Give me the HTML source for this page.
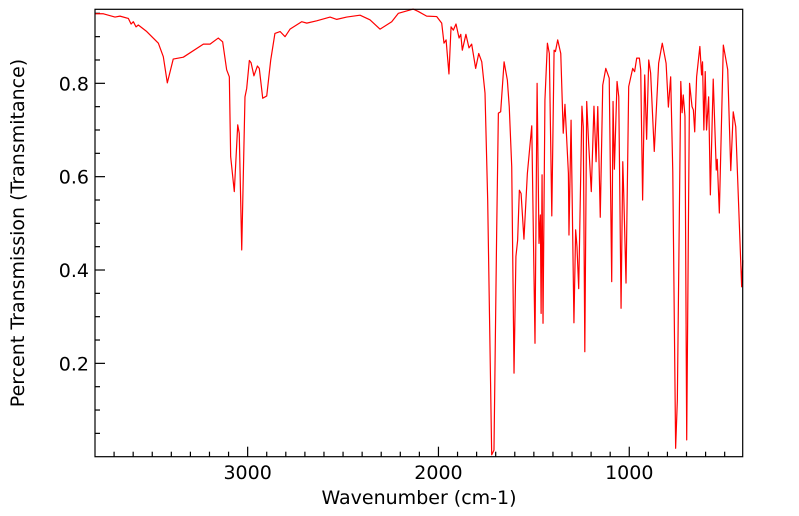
<!DOCTYPE html>
<html>
<head>
<meta charset="utf-8">
<style>
  html,body{margin:0;padding:0;background:#fff;}
  svg{display:block;font-family:"DejaVu Sans","Liberation Sans",sans-serif;}
</style>
</head>
<body>
<svg id="chart" width="799" height="516" viewBox="0 0 799 516">
  <rect x="0" y="0" width="799" height="516" fill="#fff"/>
  <g id="ticks"></g>
  <g id="series"></g>
  <rect x="95" y="9.3" width="647.7" height="447.4" fill="none" stroke="#000" stroke-width="1.2"/>
  <text x="419" y="504" text-anchor="middle" font-size="19">Wavenumber (cm-1)</text>
  <text transform="translate(24,233) rotate(-90)" text-anchor="middle" font-size="19">Percent Transmission (Transmitance)</text>
</svg>
<script>
const wavenumbers = [3800,3756,3695,3669,3625,3611,3599,3585,3573,3529,3468,3442,3421,3390,3337,3232,3197,3154,3131,3110,3096,3089,3070,3052,3044,3031,3014,3005,2991,2982,2967,2949,2939,2921,2900,2879,2857,2830,2804,2778,2717,2690,2638,2568,2533,2481,2411,2359,2306,2245,2210,2132,2106,2062,2009,1983,1971,1960,1945,1934,1922,1908,1892,1883,1875,1856,1840,1826,1805,1789,1773,1756,1742,1721,1709,1695,1686,1674,1656,1639,1629,1616,1604,1594,1585,1576,1567,1552,1534,1511,1494,1483,1473,1466,1462,1457,1452,1442,1429,1419,1406,1394,1387,1375,1359,1346,1337,1319,1316,1305,1290,1281,1274,1265,1248,1241,1233,1223,1213,1199,1185,1174,1165,1152,1139,1123,1105,1092,1085,1078,1064,1055,1043,1034,1029,1017,1003,982,972,961,947,940,930,919,909,898,888,869,846,827,807,795,783,772,757,748,730,723,717,708,699,684,671,664,657,647,630,621,616,609,602,595,584,575,560,544,539,528,507,484,468,455,442,411,405];
const transmittance = [0.949,0.949,0.942,0.944,0.939,0.927,0.932,0.921,0.925,0.911,0.886,0.857,0.801,0.852,0.856,0.884,0.884,0.897,0.889,0.829,0.814,0.643,0.568,0.711,0.693,0.443,0.771,0.789,0.849,0.844,0.816,0.837,0.832,0.768,0.773,0.850,0.907,0.911,0.900,0.916,0.932,0.929,0.934,0.942,0.937,0.942,0.946,0.936,0.916,0.932,0.950,0.959,0.954,0.944,0.943,0.929,0.886,0.893,0.820,0.921,0.914,0.927,0.897,0.905,0.871,0.905,0.876,0.884,0.832,0.864,0.846,0.779,0.550,0.004,0.014,0.479,0.736,0.739,0.846,0.807,0.750,0.621,0.179,0.429,0.464,0.571,0.564,0.466,0.607,0.709,0.243,0.800,0.457,0.518,0.307,0.604,0.286,0.764,0.886,0.864,0.516,0.871,0.868,0.893,0.864,0.693,0.755,0.607,0.475,0.721,0.287,0.486,0.450,0.360,0.751,0.707,0.225,0.761,0.672,0.568,0.751,0.632,0.750,0.513,0.796,0.832,0.811,0.375,0.761,0.616,0.804,0.771,0.318,0.632,0.564,0.372,0.793,0.832,0.825,0.854,0.854,0.829,0.550,0.818,0.680,0.850,0.822,0.654,0.843,0.886,0.843,0.749,0.814,0.611,0.018,0.121,0.804,0.737,0.775,0.729,0.036,0.800,0.750,0.743,0.696,0.814,0.879,0.818,0.846,0.700,0.825,0.700,0.771,0.561,0.809,0.614,0.637,0.522,0.882,0.829,0.613,0.739,0.707,0.364,0.421];
const xMajorTicks = [3000,2000,1000];
const xMajorLabels = ["3000","2000","1000"];
const yMajorTicks = [0.2,0.4,0.6,0.8];
const yMajorLabels = ["0.2","0.4","0.6","0.8"];

const X0=95, X1=742.7, Y0=456.7, Y1=9.3;
const WN_MAX=3800, WN_MIN=405.5, T_MIN=0, T_MAX=0.9586;
function xScale(w){return X0+(WN_MAX-w)/(WN_MAX-WN_MIN)*(X1-X0);}
function yScale(t){return Y0-(t-T_MIN)/(T_MAX-T_MIN)*(Y0-Y1);}
const NS="http://www.w3.org/2000/svg";
const tg=document.getElementById('ticks');
function line(x1,y1,x2,y2,name){
  const l=document.createElementNS(NS,'line');
  l.setAttribute('x1',x1);l.setAttribute('y1',y1);l.setAttribute('x2',x2);l.setAttribute('y2',y2);
  l.setAttribute('stroke','#000');l.setAttribute('stroke-width','1.2');
  
  
  tg.appendChild(l);
}
function label(x,y,txt,anchor,name){
  const t=document.createElementNS(NS,'text');
  t.setAttribute('x',x);t.setAttribute('y',y);t.setAttribute('text-anchor',anchor);
  t.setAttribute('font-size','19');t.textContent=txt;
  
  
  tg.appendChild(t);
}
for(let w=3700; w>=WN_MIN; w-=100){
  if(xMajorTicks.indexOf(w)<0) line(xScale(w),Y0,xScale(w),Y0-5,'x-minor-tick');
}
xMajorTicks.forEach((w,i)=>{
  line(xScale(w),Y0,xScale(w),Y0-10,'x-major-tick');
  label(xScale(w),479,xMajorLabels[i],'middle','x-tick-label');
});
for(let k=1;k<=19;k++){
  const t=k*0.05;
  if(t>T_MAX) break;
  if(k%4===0) continue;
  line(X0,yScale(t),X0+5,yScale(t),'y-minor-tick');
}
yMajorTicks.forEach((t,i)=>{
  line(X0,yScale(t),X0+10,yScale(t),'y-major-tick');
  label(89,yScale(t)+7,yMajorLabels[i],'end','y-tick-label');
});
const pts=wavenumbers.map((w,i)=>xScale(w).toFixed(2)+','+yScale(transmittance[i]).toFixed(2)).join(' ');
const pl=document.createElementNS(NS,'polyline');
pl.setAttribute('points',pts);
pl.setAttribute('fill','none');pl.setAttribute('stroke','#ff0000');pl.setAttribute('stroke-width','1.2');
pl.setAttribute('stroke-linejoin','round');


document.getElementById('series').appendChild(pl);
</script>
</body>
</html>
